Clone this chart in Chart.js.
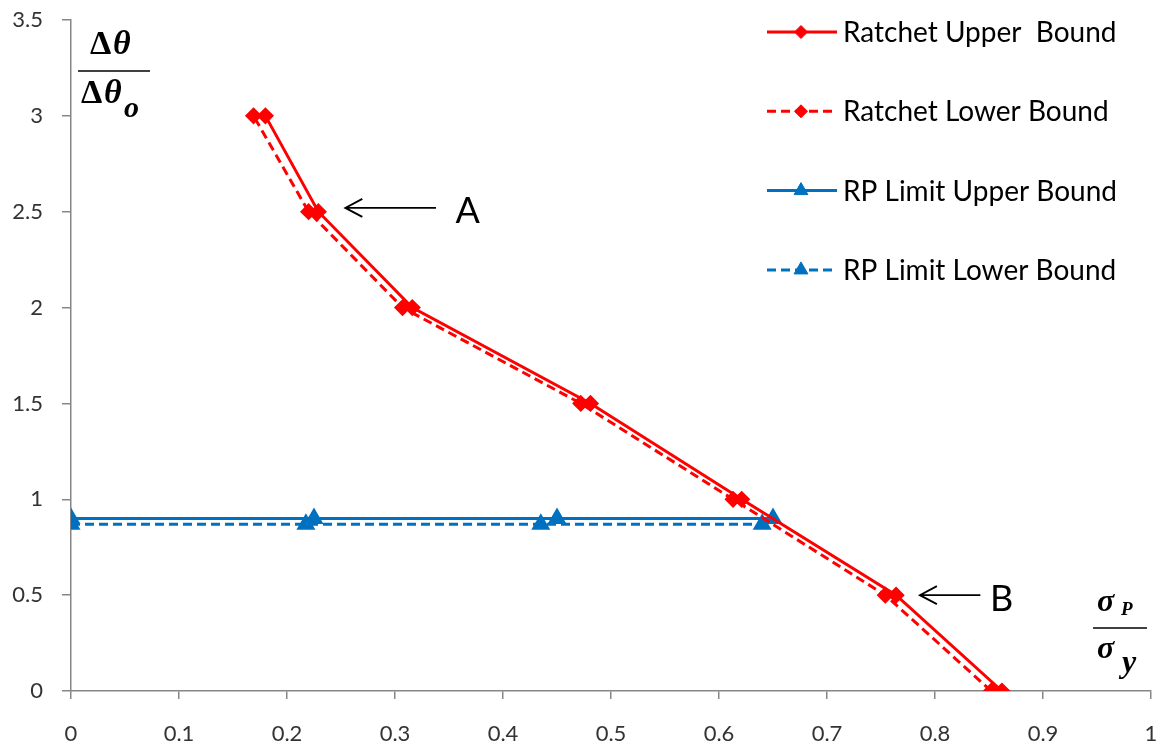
<!DOCTYPE html>
<html>
<head>
<meta charset="utf-8">
<script src="https://cdn.jsdelivr.net/npm/chart.js@4.4.1/dist/chart.umd.min.js"></script>
<style>
  body { margin: 0; background: #fff; }
  #wrap { width: 1167px; height: 754px; }
</style>
</head>
<body>
<div id="wrap"><canvas id="grafico" width="1167" height="754"></canvas></div>
<script>
// Datos
const ratchetY = [0, 0.5, 1, 1.5, 2, 2.5, 3];
const ratchetUpperX = [0.862, 0.764, 0.621, 0.481, 0.316, 0.229, 0.180];
const ratchetLowerX = [0.852, 0.754, 0.613, 0.472, 0.307, 0.220, 0.169];
const rpUpperX = [0, 0.225, 0.45, 0.65];
const rpUpperY = [0.9, 0.9, 0.9, 0.9];
const rpLowerX = [0, 0.2175, 0.435, 0.64];
const rpLowerY = [0.87, 0.87, 0.87, 0.87];
const seriesNames = ['Ratchet Upper  Bound', 'Ratchet Lower Bound', 'RP Limit Upper Bound', 'RP Limit Lower Bound'];
const xTicks = [0, 0.1, 0.2, 0.3, 0.4, 0.5, 0.6, 0.7, 0.8, 0.9, 1];
const yTicks = [0, 0.5, 1, 1.5, 2, 2.5, 3, 3.5];

const ROJO = '#ff0000';
const AZUL = '#0070c0';
const GRIS = '#868686';

function puntos(xs, ys) {
    return xs.map((x, i) => ({ x: x, y: ys[i] }));
}

// Leyenda dibujada a mano (línea + marcador + texto)
const leyendaPlugin = {
    id: 'leyenda',
    afterDraw(chart) {
        const ctx = chart.ctx;
        ctx.save();
        chart.data.datasets.forEach((ds, i) => {
            const y = 32 + i * 79.3;
            ctx.strokeStyle = ds.borderColor;
            ctx.lineWidth = 3;
            ctx.setLineDash(ds.borderDash || []);
            ctx.beginPath();
            ctx.moveTo(767, y);
            ctx.lineTo(837, y);
            ctx.stroke();
            ctx.setLineDash([]);
            ctx.fillStyle = ds.backgroundColor;
            ctx.lineWidth = 1;
            Chart.helpers.drawPoint(ctx, {
                pointStyle: ds.pointStyle,
                radius: ds.pointRadius,
                borderWidth: 1
            }, 801, y);
            ctx.fillStyle = '#000';
            ctx.font = '28px Lato';
            ctx.textBaseline = 'middle';
            ctx.textAlign = 'left';
            ctx.fillText(ds.label, 843, y + 1);
        });
        ctx.restore();
    }
};

// Anotaciones: títulos de ejes y flechas A, B
const anotacionesPlugin = {
    id: 'anotaciones',
    afterDraw(chart) {
        const ctx = chart.ctx;
        const sx = chart.scales.x;
        const sy = chart.scales.y;
        ctx.save();
        ctx.fillStyle = '#000';
        ctx.strokeStyle = '#000';

        // Título eje Y: Δθ / Δθo
        ctx.textBaseline = 'alphabetic';
        ctx.textAlign = 'left';
        ctx.font = 'bold 34px "Liberation Serif"';
        ctx.fillText('Δ', 90, 54);
        ctx.font = 'bold italic 34px "Liberation Serif"';
        ctx.fillText('θ', 113, 54);
        ctx.lineWidth = 1.5;
        ctx.beginPath();
        ctx.moveTo(78, 71);
        ctx.lineTo(150, 71);
        ctx.stroke();
        ctx.font = 'bold 34px "Liberation Serif"';
        ctx.fillText('Δ', 81, 103);
        ctx.font = 'bold italic 34px "Liberation Serif"';
        ctx.fillText('θ', 104, 103);
        ctx.font = 'bold italic 30px "Liberation Serif"';
        ctx.fillText('o', 124, 117);

        // Título eje X: σP / σy
        ctx.font = 'bold italic 32px "Liberation Serif"';
        ctx.fillText('σ', 1097, 611);
        ctx.font = 'bold italic 19px "Liberation Serif"';
        ctx.fillText('P', 1121, 615);
        ctx.beginPath();
        ctx.moveTo(1093, 628);
        ctx.lineTo(1147, 628);
        ctx.stroke();
        ctx.font = 'bold italic 32px "Liberation Serif"';
        ctx.fillText('σ', 1097, 658);
        ctx.fillText('y', 1122, 672);

        // Flechas
        function flecha(x1, x2, y, letra, xl) {
            const px1 = sx.getPixelForValue(x1);
            const px2 = sx.getPixelForValue(x2);
            const py = sy.getPixelForValue(y);
            ctx.strokeStyle = '#000';
            ctx.lineWidth = 1.8;
            ctx.beginPath();
            ctx.moveTo(px2, py);
            ctx.lineTo(px1, py);
            ctx.moveTo(px1 + 17, py - 9);
            ctx.lineTo(px1, py);
            ctx.lineTo(px1 + 17, py + 9);
            ctx.stroke();
            ctx.font = '36px Lato';
            ctx.textAlign = 'left';
            ctx.textBaseline = 'middle';
            ctx.fillText(letra, sx.getPixelForValue(xl), py + 4);
        }
        flecha(0.254, 0.338, 2.52, 'A', 0.356);
        flecha(0.786, 0.842, 0.5, 'B', 0.851);
        ctx.restore();
    }
};

function etiqueta(v) {
    return String(Math.round(v * 10) / 10);
}

new Chart(document.getElementById('grafico'), {
    type: 'scatter',
    data: {
        datasets: [{
            label: seriesNames[0],
            data: puntos(ratchetUpperX, ratchetY),
            borderColor: ROJO,
            backgroundColor: ROJO,
            pointStyle: 'rectRot',
            pointRadius: 6.5,
            borderWidth: 3,
            showLine: true
        }, {
            label: seriesNames[1],
            data: puntos(ratchetLowerX, ratchetY),
            borderColor: ROJO,
            backgroundColor: ROJO,
            borderDash: [9, 5],
            pointStyle: 'rectRot',
            pointRadius: 6.5,
            borderWidth: 3,
            showLine: true
        }, {
            label: seriesNames[2],
            data: puntos(rpUpperX, rpUpperY),
            borderColor: AZUL,
            backgroundColor: AZUL,
            pointStyle: 'triangle',
            pointRadius: 8,
            borderWidth: 3,
            showLine: true
        }, {
            label: seriesNames[3],
            data: puntos(rpLowerX, rpLowerY),
            borderColor: AZUL,
            backgroundColor: AZUL,
            borderDash: [9, 5],
            pointStyle: 'triangle',
            pointRadius: 8,
            borderWidth: 3,
            showLine: true
        }]
    },
    options: {
        responsive: false,
        animation: false,
        layout: { padding: { top: 20, right: 16, left: 0, bottom: 0 } },
        plugins: {
            legend: { display: false },
            tooltip: { enabled: false }
        },
        elements: { point: { borderWidth: 1 } },
        scales: {
            x: {
                type: 'linear',
                min: 0,
                max: 1,
                afterFit(scale) {
                    scale.height = 63;
                    scale.paddingLeft = 0;
                    scale.paddingRight = 0;
                },
                afterBuildTicks(scale) { scale.ticks = xTicks.map(v => ({ value: v })); },
                border: { color: GRIS, width: 1.5 },
                grid: { drawOnChartArea: false, color: GRIS, tickLength: 8, lineWidth: 1.5 },
                ticks: { color: '#333', font: { family: 'Lato', size: 22 }, padding: 22, callback: etiqueta }
            },
            y: {
                type: 'linear',
                min: 0,
                max: 3.5,
                afterFit(scale) {
                    scale.width = 71;
                    scale.paddingTop = 0;
                    scale.paddingBottom = 0;
                },
                afterBuildTicks(scale) { scale.ticks = yTicks.map(v => ({ value: v })); },
                border: { color: GRIS, width: 1.5 },
                grid: { drawOnChartArea: false, color: GRIS, tickLength: 9, lineWidth: 1.5 },
                ticks: { color: '#333', font: { family: 'Lato', size: 22 }, padding: 19, callback: etiqueta }
            }
        }
    },
    plugins: [leyendaPlugin, anotacionesPlugin]
});
</script>
</body>
</html>
